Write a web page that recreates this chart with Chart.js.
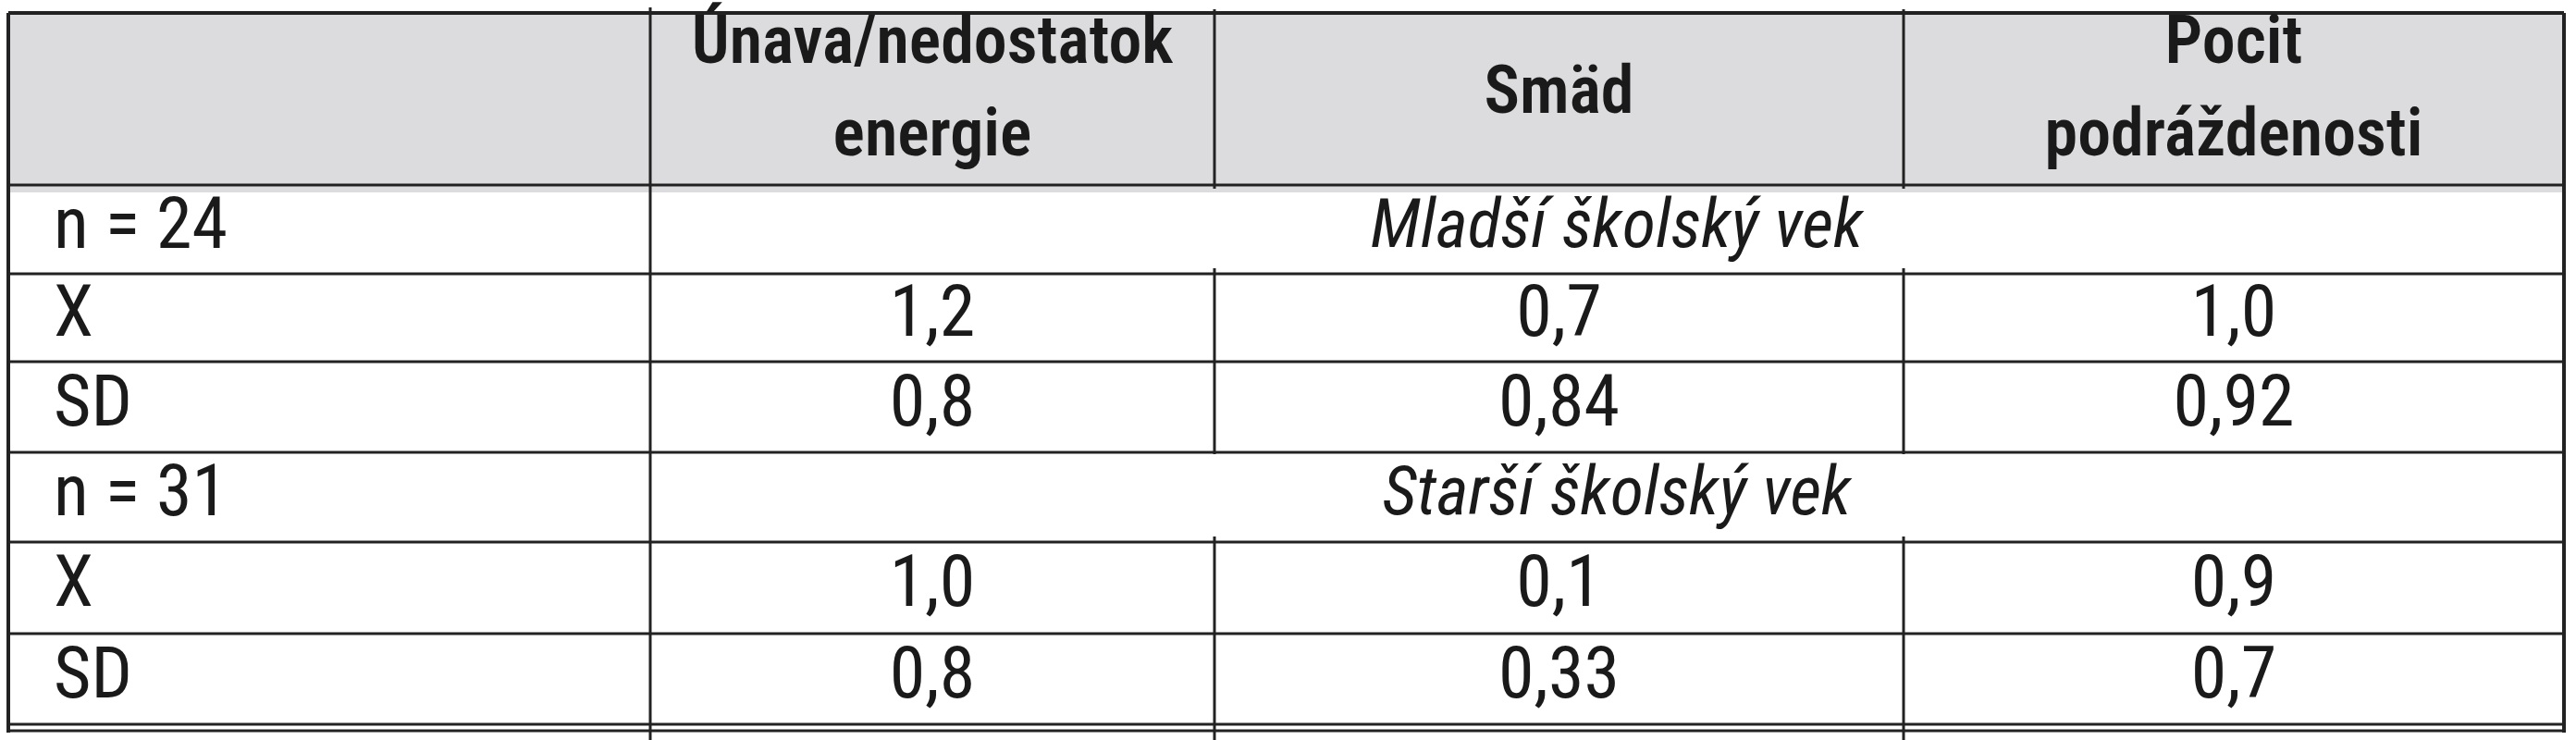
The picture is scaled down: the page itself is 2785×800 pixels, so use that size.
<!DOCTYPE html>
<html><head><meta charset="utf-8">
<script src="https://cdn.jsdelivr.net/npm/chart.js@4"></script>
<style>html,body{margin:0;padding:0;background:#fff;overflow:hidden}</style>
</head><body>
<canvas id="c" width="2785" height="800"></canvas>
<script>
const headers = [["Únava/nedostatok","energie"],["Smäd"],["Pocit","podráždenosti"]];
const groups = ["Mladší školský vek","Starší školský vek"];
const groupN = ["n = 24","n = 31"];
const rowLabels = ["X","SD"];
const young = [["1,2","0,7","1,0"],["0,8","0,84","0,92"]];
const old = [["1,0","0,1","0,9"],["0,8","0,33","0,7"]];

const FONT = '"Liberation Sans Narrow","Roboto Condensed","Roboto",sans-serif';
const colX = [9, 703, 1313, 2058, 2772];
const rowY = [14, 200, 296, 391, 489, 586, 685, 783];

const tablePlugin = {
  id: 'table',
  afterDraw(chart) {
    const ctx = chart.ctx;
    ctx.save();
    ctx.fillStyle = '#fff'; ctx.fillRect(0,0,2785,800);
    ctx.fillStyle = '#dcdcde';
    ctx.fillRect(colX[0], rowY[0], colX[4]-colX[0], rowY[1]-rowY[0]+8);
    ctx.strokeStyle = '#222';
    const hl = (y,w)=>{ctx.lineWidth=w;ctx.beginPath();ctx.moveTo(colX[0],y);ctx.lineTo(colX[4],y);ctx.stroke();};
    const vl = (x,y0,y1,w)=>{ctx.lineWidth=w;ctx.beginPath();ctx.moveTo(x,y0);ctx.lineTo(x,y1);ctx.stroke();};
    hl(rowY[0],4);
    for (let i=1;i<rowY.length;i++) hl(rowY[i],3);
    hl(790,3);
    vl(colX[0],rowY[0],792,4); vl(colX[4],rowY[0],792,4);
    vl(colX[1],8,800,3);
    const valueRows = [[rowY[0]-4,rowY[1]+4],[rowY[2]-6,rowY[4]+2],[rowY[5]-6,800]];
    for (const c of [2,3]) for (const [a,b] of valueRows) vl(colX[c],a,b,3);

    ctx.fillStyle = '#1a1a1a';
    ctx.textBaseline = 'middle';
    ctx.textAlign = 'center';
    ctx.font = '600 72px ' + FONT;
    headers.forEach((h,i)=>{
      const cx = (colX[i+1]+colX[i+2])/2;
      if (h.length===1) ctx.fillText(h[0], cx, 104);
      else { ctx.fillText(h[0], cx, 50); ctx.fillText(h[1], cx, 150); }
    });
    const groupData = [young, old];
    groups.forEach((g,gi)=>{
      const base = gi*3+1;
      const yMid = (rowY[base]+rowY[base+1])/2;
      ctx.textAlign='left'; ctx.font = '78px '+FONT;
      ctx.fillText(groupN[gi], 58, yMid);
      ctx.textAlign='center'; ctx.font = 'italic 74px '+FONT;
      ctx.fillText(g, 1748, yMid);
      rowLabels.forEach((rl,ri)=>{
        const y = (rowY[base+1+ri]+rowY[base+2+ri])/2;
        ctx.textAlign='left'; ctx.font='78px '+FONT;
        ctx.fillText(rl, 58, y);
        ctx.textAlign='center';
        groupData[gi][ri].forEach((v,ci)=>{
          ctx.fillText(v, (colX[ci+1]+colX[ci+2])/2, y);
        });
      });
    });
    ctx.restore();
  }
};

new Chart(document.getElementById('c'), {
  type: 'bar',
  data: { labels: headers.map(h=>h.join(' ')), datasets: [] },
  options: {
    responsive: false, animation: false, devicePixelRatio: 1,
    plugins: { legend: {display:false}, tooltip:{enabled:false} },
    scales: { x:{display:false}, y:{display:false} }
  },
  plugins: [tablePlugin]
});
</script>
</body></html>
